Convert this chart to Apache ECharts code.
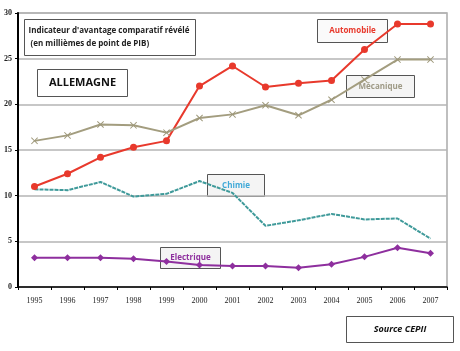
<!DOCTYPE html>
<html>
<head>
<meta charset="utf-8">
<script src="https://cdn.jsdelivr.net/npm/echarts@6/dist/echarts.min.js"></script>
<style>
  html, body { margin: 0; padding: 0; background: #fff; }
  #chart { width: 460px; height: 351px; }
</style>
</head>
<body>
<div id="chart"></div>
<script>
(function(){
    // données
    var years = ['1995', '1996', '1997', '1998', '1999', '2000', '2001', '2002', '2003', '2004', '2005', '2006', '2007'];
    var automobile = [11.0, 12.4, 14.2, 15.3, 16.0, 22.0, 24.2, 21.9, 22.3, 22.6, 26.0, 28.8, 28.8];
    var mecanique = [16.0, 16.6, 17.8, 17.7, 16.9, 18.5, 18.9, 19.9, 18.8, 20.5, 22.7, 24.9, 24.9];
    var chimie = [10.7, 10.6, 11.5, 9.9, 10.2, 11.6, 10.3, 6.7, 7.3, 8.0, 7.4, 7.5, 5.3];
    var electrique = [3.2, 3.2, 3.2, 3.1, 2.8, 2.4, 2.3, 2.3, 2.1, 2.5, 3.3, 4.3, 3.7];
    var yTicks = [0, 5, 10, 15, 20, 25, 30];

    var crossPath = 'path://M0,1L1,0L5,4L9,0L10,1L6,5L10,9L9,10L5,6L1,10L0,9L4,5Z';
    var textFont = '"Open Sans", "Noto Sans", sans-serif';

    // encadré avec texte
    function box(x, y, w, h, text, color, opts) {
        opts = opts || {};
        var txtStyle = {
            text: text,
            fill: color,
            font: (opts.font || 'bold 8px ') + textFont,
            align: opts.align || 'center',
            verticalAlign: 'middle'
        };
        if (opts.lineHeight) txtStyle.lineHeight = opts.lineHeight;
        return {
            type: 'group',
            left: x,
            top: y,
            z: 100,
            children: [
                {
                    type: 'rect',
                    shape: { x: 0, y: 0, width: w, height: h },
                    style: { fill: opts.fill || '#fff', stroke: '#555', lineWidth: 1 }
                },
                {
                    type: 'text',
                    x: opts.align === 'left' ? 4 : w / 2,
                    y: h / 2,
                    style: txtStyle
                }
            ]
        };
    }

    var dom = document.getElementById('chart');
    var myChart = echarts.init(dom);
    var option = {
        animation: false,
        grid: {
            left: 18, right: 13, top: 13, bottom: 64,
            show: true,
            borderColor: '#aaa',
            borderWidth: 1.5
        },
        xAxis: {
            type: 'category',
            data: years,
            boundaryGap: true,
            axisLine: { lineStyle: { color: '#000', width: 1.5 } },
            axisTick: { show: true, alignWithLabel: false, length: 3, lineStyle: { color: '#000' } },
            axisLabel: {
                color: '#222',
                fontFamily: '"Liberation Serif", serif',
                fontSize: 8,
                margin: 10
            }
        },
        yAxis: {
            type: 'value',
            min: yTicks[0],
            max: yTicks[yTicks.length - 1],
            interval: 5,
            axisLine: { show: true, lineStyle: { color: '#000', width: 2 } },
            axisTick: { show: true, length: 3, lineStyle: { color: '#000' } },
            axisLabel: {
                color: '#222',
                fontFamily: '"Liberation Serif", serif',
                fontWeight: 'bold',
                fontSize: 8,
                margin: 6
            },
            splitLine: { lineStyle: { color: '#b5b5b5', width: 1.5 } }
        },
        series: [
            {
                name: 'Automobile',
                type: 'line',
                data: automobile,
                symbol: 'circle',
                symbolSize: 7,
                itemStyle: { color: '#e8392c' },
                lineStyle: { color: '#e8392c', width: 2 }
            },
            {
                name: 'Mécanique',
                type: 'line',
                data: mecanique,
                symbol: crossPath,
                symbolSize: 7,
                itemStyle: { color: '#9e987a' },
                lineStyle: { color: '#a39d7f', width: 2 }
            },
            {
                name: 'Chimie',
                type: 'line',
                data: chimie,
                showSymbol: false,
                lineStyle: { color: '#3f9a9a', width: 2, type: [4, 1] }
            },
            {
                name: 'Electrique',
                type: 'line',
                data: electrique,
                symbol: 'diamond',
                symbolSize: 7,
                itemStyle: { color: '#8e2f9e' },
                lineStyle: { color: '#8e2f9e', width: 2 }
            }
        ],
        graphic: [
            box(24, 19, 171, 36, "Indicateur d'avantage comparatif révélé\n (en millièmes de point de PIB)", '#222', { align: 'left', lineHeight: 13 }),
            box(37, 69, 90, 27, 'ALLEMAGNE', '#111', { font: 'bold 11px ' }),
            box(317, 19, 70, 23, 'Automobile', '#e8392c', { fill: '#fafafa' }),
            box(346, 75, 68, 22, 'Mécanique', '#9e9a86', { fill: '#f4f4f4' }),
            box(207, 174, 57, 22, 'Chimie', '#3fa9d8', { fill: '#f4f4f4' }),
            box(160, 247, 60, 21, 'Electrique', '#8e2f9e', { fill: '#f4f4f4' }),
            box(346, 316, 107, 26, 'Source CEPII', '#111', { font: 'italic bold 9px ' })
        ]
    };
    myChart.setOption(option);
})();
</script>
</body>
</html>
